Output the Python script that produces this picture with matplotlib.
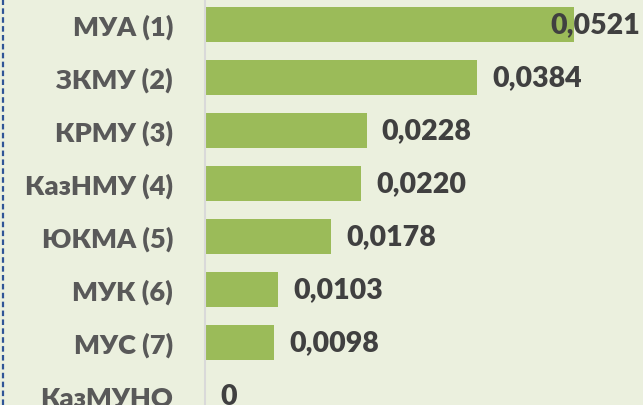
import matplotlib
matplotlib.use("Agg")
import matplotlib.pyplot as plt
from matplotlib.lines import Line2D
import matplotlib.transforms as mtransforms

categories = ["МУА (1)", "ЗКМУ (2)", "КРМУ (3)", "КазНМУ (4)", "ЮКМА (5)", "МУК (6)", "МУС (7)", "КазМУНО"]
values = [0.0521, 0.0384, 0.0228, 0.0220, 0.0178, 0.0103, 0.0098, 0.0]
value_labels = ["0,0521", "0,0384", "0,0228", "0,0220", "0,0178", "0,0103", "0,0098", "0"]

BG = "#EBF0DE"
BAR = "#9BBB59"
W, H = 643, 406

plt.rcParams['font.family'] = ['Lato', 'DejaVu Sans']
fig = plt.figure(figsize=(W / 100, H / 100), dpi=100, facecolor=BG)
ax = fig.add_axes([205 / W, 0, (W - 205) / W, 1])
ax.set_facecolor(BG)

y = list(range(len(categories)))
ax.barh(y, values, height=0.66, color=BAR, edgecolor="none", zorder=2)
ax.set_xlim(0, 0.0618)
ax.set_ylim(7.179, -0.481)

ax.set_yticks(y)
ax.set_yticklabels(categories, fontsize=19.5, fontweight='heavy', color="#595959")
ax.tick_params(axis='y', length=0, pad=23)
ax.set_xticks([])
for s in ['top', 'right', 'bottom']:
    ax.spines[s].set_visible(False)
ax.spines['left'].set_color("#D9D9D9")
ax.spines['left'].set_linewidth(1.5)

trans = ax.transData
for i, (v, lab) in enumerate(zip(values, value_labels)):
    xp, yp = trans.transform((v, i))
    if xp + 15 + 88 > W - 2:
        ax.annotate(lab, xy=(1.0, i), xycoords=mtransforms.blended_transform_factory(ax.transAxes, ax.transData),
                    xytext=(-3, 0), textcoords='offset pixels', ha='right', va='center',
                    fontsize=20.5, fontweight='heavy', color="#404040", zorder=3)
    else:
        ax.annotate(lab, xy=(v, i), xytext=(15, 0), textcoords='offset pixels',
                    ha='left', va='center', fontsize=20.5, fontweight='heavy', color="#404040", zorder=3)

# dashed left border
fig.add_artist(Line2D([3 / W, 3 / W], [0, 1], transform=fig.transFigure,
                      color="#2F5597", linestyle=(0, (2.5, 1.5)), linewidth=1.6))

fig.savefig("out.png", dpi=100, facecolor=BG)
